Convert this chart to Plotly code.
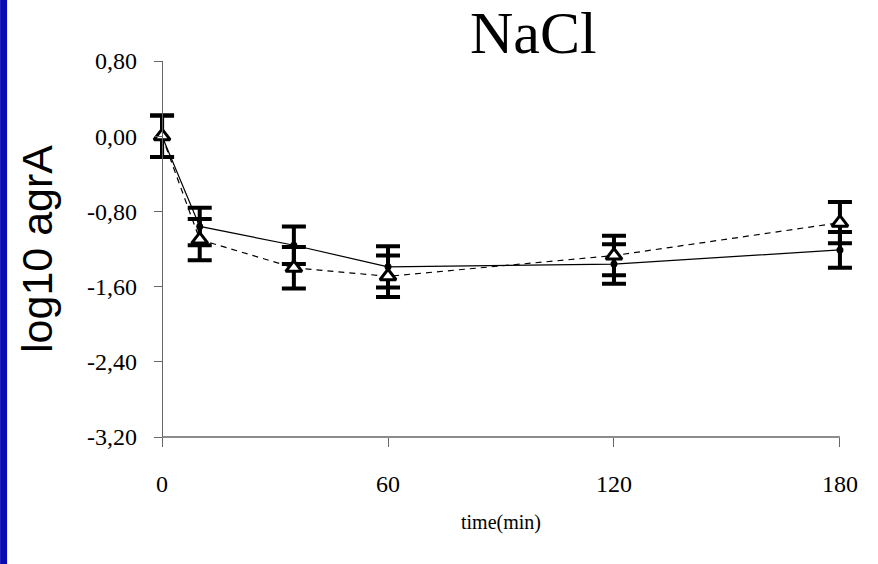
import plotly.graph_objects as go

# ---- data ----
time_min = [0, 10, 35, 60, 120, 180]
solid_vals = [0.00, -0.96, -1.16, -1.39, -1.36, -1.21]
solid_err = [0.22, 0.20, 0.20, 0.22, 0.21, 0.19]
dashed_vals = [0.00, -1.10, -1.40, -1.49, -1.27, -0.92]
dashed_err = [0.22, 0.22, 0.22, 0.22, 0.21, 0.22]

y_tickvals = [0.8, 0.0, -0.8, -1.6, -2.4, -3.2]
y_ticktext = ["0,80", "0,00", "-0,80", "-1,60", "-2,40", "-3,20"]
x_tickvals = [0, 60, 120, 180]
x_ticktext = ["0", "60", "120", "180"]

W, H = 878, 564
X0, X1 = 0, 180        # axis extent drawn
XMIN, XMAX = -4, 184   # padded range so end error bars are not clipped
AX0_PX, AX1_PX = 162, 840
T, B = 61, 127
px_per_unit = (AX1_PX - AX0_PX) / (X1 - X0)
L = AX0_PX - (X0 - XMIN) * px_per_unit
R = W - (AX1_PX + (XMAX - X1) * px_per_unit)
PW, PH = W - L - R, H - T - B
yaxis_pos = (X0 - XMIN) / (XMAX - XMIN)

fig = go.Figure()

fig.add_trace(go.Scatter(
    x=time_min, y=solid_vals, mode="lines+markers",
    line=dict(color="black", width=1.2),
    marker=dict(symbol="circle", size=7, color="black"),
    error_y=dict(type="data", array=solid_err, visible=True,
                 color="black", thickness=4, width=12),
    showlegend=False, cliponaxis=False,
))
fig.add_trace(go.Scatter(
    x=time_min, y=dashed_vals, mode="lines+markers",
    line=dict(color="black", width=1.2, dash="6px,5px"),
    marker=dict(symbol="triangle-up", size=14, color="white",
                line=dict(color="black", width=3)),
    error_y=dict(type="data", array=dashed_err, visible=True,
                 color="black", thickness=4, width=12),
    showlegend=False, cliponaxis=False,
))

axis_col = "#666666"
fig.update_layout(
    width=W, height=H,
    margin=dict(l=L, r=R, t=T, b=B, pad=0),
    paper_bgcolor="white", plot_bgcolor="white",
    font=dict(family="Liberation Serif, Times New Roman, serif", color="black"),
    xaxis=dict(
        range=[XMIN, XMAX], tickvals=x_tickvals, ticktext=x_ticktext,
        showgrid=False, zeroline=False, showline=False, automargin=False,
        ticks="outside", ticklen=9, tickcolor=axis_col,
        tickwidth=1.3, tickfont=dict(size=24), ticklabelstandoff=16,
        title=dict(text="time(min)", font=dict(size=20), standoff=19),
    ),
    yaxis=dict(
        range=[-3.2, 0.8], tickvals=y_tickvals, ticktext=y_ticktext,
        anchor="free", position=yaxis_pos, automargin=False,
        showgrid=False, zeroline=False, showline=True, linecolor=axis_col,
        linewidth=1.3, ticks="outside", ticklen=8, tickcolor=axis_col,
        tickwidth=1.3, tickfont=dict(size=24), ticklabelstandoff=12,
        title=dict(text="log10 agrA",
                   font=dict(size=43, family="Liberation Sans, Arial, sans-serif"),
                   standoff=20),
    ),
    shapes=[
        dict(type="line", xref="x", yref="paper", x0=X0, x1=X1, y0=0, y1=0,
             line=dict(color=axis_col, width=1.3), layer="below"),
        dict(type="rect", xref="paper", yref="paper",
             x0=-L / PW, x1=(-L + 7) / PW, y0=-B / PH, y1=1 + T / PH,
             fillcolor="#0a0ab4", line=dict(width=0), layer="above"),
    ],
    annotations=[dict(text="NaCl", xref="paper", yref="paper",
                      x=(534 - L) / PW, y=1 + (T - 33) / PH,
                      xanchor="center", yanchor="middle", showarrow=False,
                      font=dict(size=60, family="Liberation Serif, Times New Roman, serif"))],
)

fig.write_html("out.html", config={"displayModeBar": False},
               post_script="document.body.style.margin='0';document.body.style.padding='0';")
